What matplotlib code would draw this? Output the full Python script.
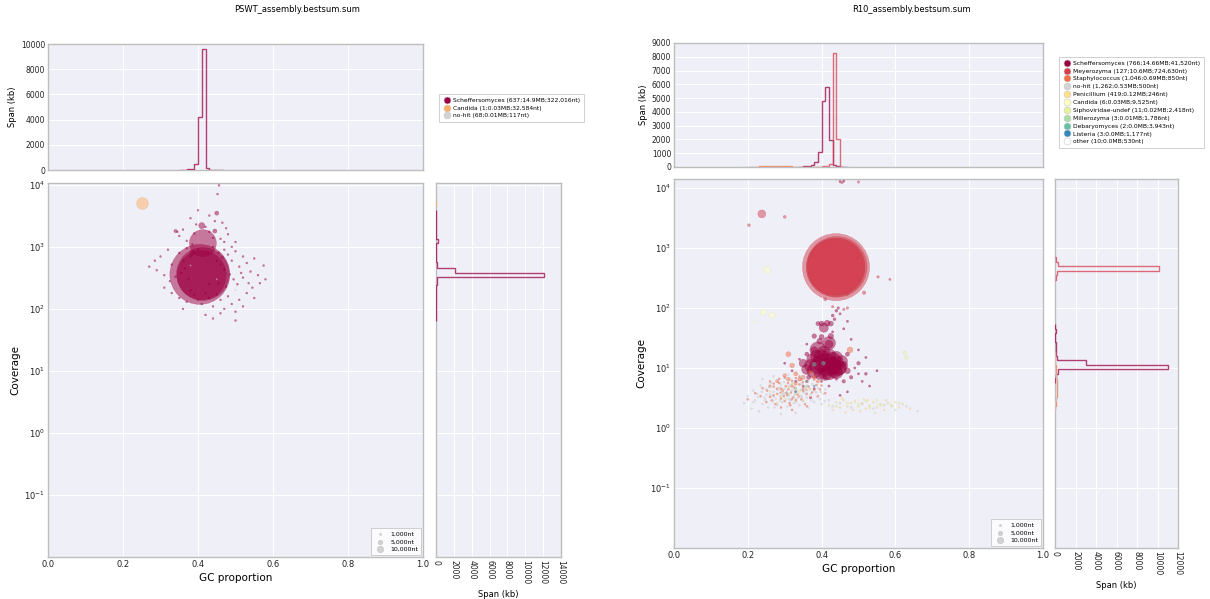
import numpy as np
import matplotlib
matplotlib.use('Agg')
import matplotlib.pyplot as plt
import matplotlib.colors as mcolors
from matplotlib.lines import Line2D

W, H = 1210, 599
NT_PER_S = 450.0   # contig length (nt) per scatter size unit

# ---------------- PSWT_assembly ----------------
pswt_labels = ['Scheffersomyces (637;14.9MB;322,016nt)',
               'Candida (1;0.03MB;32,584nt)',
               'no-hit (68;0.01MB;117nt)']
pswt_colors = ['#9e0142', '#fdae61', '#d3d3d3']

# (gc, coverage, length nt)
pswt_sch_big = [(0.405, 360, 840000), (0.413, 365, 650000), (0.410, 350, 560000),
                (0.413, 1150, 170000), (0.410, 2200, 9000), (0.450, 3500, 4000),
                (0.445, 1800, 4000), (0.340, 1800, 2500), (0.385, 800, 6000)]
pswt_sch_dust = [(0.456, 9800), (0.452, 7100), (0.400, 3900), (0.430, 3200), (0.380, 2900),
                 (0.445, 2600), (0.465, 2450), (0.395, 2300), (0.420, 2100), (0.475, 2000),
                 (0.360, 1900), (0.430, 1750), (0.480, 1600), (0.350, 1500), (0.440, 1400),
                 (0.460, 1350), (0.370, 1250), (0.500, 1200), (0.390, 1650), (0.345, 1750),
                 (0.300, 700), (0.320, 900), (0.330, 520), (0.350, 800), (0.360, 600),
                 (0.365, 450), (0.370, 950), (0.380, 700), (0.470, 900), (0.480, 750),
                 (0.490, 600), (0.500, 850), (0.510, 480), (0.520, 700), (0.530, 550),
                 (0.540, 400), (0.550, 650), (0.560, 350), (0.575, 500), (0.290, 420),
                 (0.310, 350), (0.325, 280), (0.340, 330), (0.460, 520), (0.470, 430),
                 (0.485, 360), (0.495, 300), (0.505, 250), (0.520, 320), (0.535, 260),
                 (0.545, 220), (0.440, 1000), (0.455, 800), (0.465, 680), (0.450, 600),
                 (0.330, 180), (0.350, 150), (0.370, 130), (0.380, 200), (0.390, 170),
                 (0.400, 140), (0.410, 120), (0.420, 180), (0.430, 150), (0.440, 110),
                 (0.450, 170), (0.460, 140), (0.470, 100), (0.480, 160), (0.490, 120),
                 (0.500, 90), (0.510, 140), (0.520, 110), (0.420, 80), (0.440, 70),
                 (0.460, 85), (0.500, 65), (0.360, 100), (0.530, 180), (0.550, 150),
                 (0.310, 220), (0.470, 1200), (0.490, 1000), (0.385, 1100), (0.400, 900),
                 (0.355, 380), (0.375, 300), (0.455, 260), (0.475, 230), (0.430, 250),
                 (0.515, 380), (0.565, 260), (0.285, 600), (0.270, 480), (0.580, 300)]
pswt_sch_dust_len = 900
pswt_can_big = [(0.250, 5100, 32584)]
pswt_nohit_big = [(0.450, 300, 500), (0.380, 500, 500), (0.500, 200, 500)]

# GC histogram: first bin left edge, span (kb) per 0.01 bin
pswt_sch_gc_start, pswt_sch_gc_kb = 0.35, [10, 20, 40, 80, 500, 4200, 9600, 150, 30, 15, 10, 5]
pswt_can_gc_start, pswt_can_gc_kb = 0.25, [33]
# coverage histogram: log10 bin edges, span (kb)
pswt_sch_cov_edges = [1.8, 1.9, 2.0, 2.1, 2.2, 2.3, 2.385, 2.45, 2.51, 2.58, 2.66, 2.75,
                      2.85, 2.95, 3.06, 3.12, 3.2, 3.4, 3.6]
pswt_sch_cov_kb = [10, 15, 20, 25, 35, 45, 60, 100, 12100, 2100, 60, 40, 30, 20, 170, 20, 15, 8]
pswt_can_cov_edges, pswt_can_cov_kb = [3.68, 3.745], [33]

# ---------------- R10_assembly ----------------
r10_labels = ['Scheffersomyces (766;14.66MB;41,520nt)',
              'Meyerozyma (127;10.6MB;724,630nt)',
              'Staphylococcus (1,046;0.69MB;850nt)',
              'no-hit (1,262;0.53MB;500nt)',
              'Penicillium (419;0.12MB;246nt)',
              'Candida (6;0.03MB;9,525nt)',
              'Siphoviridae-undef (11;0.02MB;2,418nt)',
              'Millerozyma (3;0.01MB;1,786nt)',
              'Debaryomyces (2;0.0MB;3,943nt)',
              'Listeria (3;0.0MB;1,177nt)',
              'other (10;0.0MB;530nt)']
r10_colors = ['#9e0142', '#d53e4f', '#f46d43', '#d3d3d3', '#fee08b', '#ffffbf',
              '#e6f598', '#abdda4', '#66c2a5', '#3288bd', '#ffffff']

r10_sch_big = [(0.390, 20, 60000), (0.420, 26, 40000), (0.400, 12, 70000), (0.410, 10, 60000),
               (0.430, 11, 65000), (0.440, 12, 50000), (0.450, 10, 40000), (0.370, 11, 35000),
               (0.380, 9, 50000), (0.420, 8.5, 55000), (0.440, 8.5, 40000), (0.400, 15, 55000),
               (0.420, 16, 45000), (0.440, 15, 35000), (0.375, 14, 30000), (0.360, 9.5, 25000),
               (0.455, 13, 30000), (0.410, 8, 40000), (0.430, 13.5, 60000), (0.390, 11, 65000),
               (0.415, 12.5, 70000), (0.405, 18, 40000), (0.385, 16, 30000), (0.435, 9, 45000),
               (0.395, 8, 30000), (0.425, 10.5, 70000), (0.445, 10, 55000), (0.350, 12, 15000),
               (0.460, 11, 15000), (0.470, 9, 8000),
               (0.406, 47, 20000), (0.400, 55, 6000), (0.415, 56, 8000), (0.425, 55, 6000),
               (0.390, 55, 4000), (0.380, 34, 5000), (0.400, 33, 6000), (0.425, 34, 7000),
               (0.420, 25, 15000), (0.395, 28, 8000), (0.430, 75, 2000), (0.440, 90, 2000),
               (0.445, 100, 1500), (0.435, 65, 2000), (0.380, 20, 10000), (0.360, 17, 4000),
               (0.365, 7, 4000), (0.480, 7, 3000), (0.500, 12, 3000), (0.470, 17, 4000),
               (0.520, 8, 2000), (0.460, 6, 3000), (0.410, 7, 4000)]
r10_sch_dust = [(0.33, 6), (0.35, 5), (0.47, 4), (0.50, 20), (0.52, 15), (0.48, 30), (0.46, 45),
                (0.36, 25), (0.34, 14), (0.55, 9), (0.53, 5), (0.45, 3.5), (0.38, 4.5), (0.40, 6),
                (0.42, 5), (0.44, 6.5), (0.49, 10), (0.51, 6), (0.37, 3.2), (0.43, 40), (0.47, 60),
                (0.45, 80), (0.50, 8), (0.32, 9), (0.30, 12), (0.46, 13000), (0.45, 12800)]
r10_sch_dust_len = 1200
r10_mey_big = [(0.439, 480, 1050000), (0.441, 485, 860000), (0.438, 475, 800000),
               (0.440, 490, 760000), (0.437, 480, 720000),
               (0.238, 3700, 15000), (0.203, 2400, 2000), (0.300, 3300, 2000), (0.410, 140, 2500),
               (0.470, 170, 1500), (0.553, 330, 1500), (0.585, 300, 1200), (0.515, 180, 3000),
               (0.496, 700, 1500), (0.470, 100, 1500), (0.460, 95, 1500), (0.500, 12600, 1500),
               (0.455, 12300, 1500), (0.430, 105, 1500)]
r10_staph_big = [(0.310, 17, 6000), (0.320, 11, 5000), (0.477, 20, 8000), (0.330, 8, 4000),
                 (0.350, 7, 4000), (0.300, 7.5, 3000), (0.370, 8.5, 3000), (0.280, 6, 2500),
                 (0.340, 6.5, 3000), (0.360, 6, 2500), (0.320, 5, 2000), (0.290, 4.5, 1500),
                 (0.380, 7, 3500), (0.390, 6, 2500), (0.310, 6.5, 3500), (0.260, 5, 1500),
                 (0.330, 5.5, 2500), (0.350, 4.5, 2000), (0.305, 3.8, 1500), (0.270, 3.5, 1200)]
r10_staph_dust = [(0.20, 3.0), (0.22, 3.8), (0.24, 4.6), (0.25, 2.7), (0.26, 3.3), (0.27, 4.9),
                  (0.275, 2.5), (0.28, 3.7), (0.285, 5.6), (0.29, 3.1), (0.295, 4.2), (0.30, 2.8),
                  (0.303, 5.0), (0.307, 3.5), (0.31, 4.4), (0.313, 2.6), (0.317, 3.9), (0.32, 6.1),
                  (0.323, 3.2), (0.327, 4.7), (0.33, 2.9), (0.335, 3.6), (0.34, 5.3), (0.345, 3.0),
                  (0.35, 4.1), (0.355, 2.5), (0.36, 3.7), (0.365, 4.9), (0.37, 3.3), (0.38, 4.3),
                  (0.39, 3.4), (0.40, 5.1), (0.41, 3.8), (0.30, 6.9), (0.34, 7.2), (0.26, 6.0),
                  (0.29, 2.2), (0.32, 2.0), (0.36, 2.3), (0.38, 6.4),
                  (0.235, 3.4), (0.252, 4.2), (0.265, 2.9), (0.279, 4.5), (0.289, 3.9), (0.298, 3.4),
                  (0.309, 5.6), (0.319, 3.0), (0.329, 4.1), (0.339, 3.3), (0.349, 5.8), (0.359, 4.3),
                  (0.374, 3.9), (0.386, 5.2), (0.396, 4.4), (0.315, 2.4), (0.285, 6.6), (0.345, 6.4),
                  (0.270, 5.5), (0.330, 6.8)]
r10_staph_dust_len = 1000
r10_nohit_dust = [(0.19, 2.6), (0.20, 3.4), (0.21, 2.1), (0.215, 4.2), (0.22, 2.9), (0.225, 3.7),
                  (0.23, 1.9), (0.235, 5.1), (0.24, 2.5), (0.245, 3.2), (0.25, 4.4), (0.255, 2.2),
                  (0.26, 3.6), (0.262, 5.6), (0.268, 2.8), (0.27, 4.0), (0.275, 3.1), (0.278, 6.2),
                  (0.28, 2.4), (0.284, 4.7), (0.288, 3.4), (0.29, 5.3), (0.293, 2.7), (0.296, 3.9),
                  (0.30, 4.5), (0.302, 3.0), (0.305, 6.6), (0.308, 2.3), (0.31, 3.6), (0.312, 4.9),
                  (0.315, 2.9), (0.318, 4.1), (0.32, 3.3), (0.322, 5.7), (0.325, 2.6), (0.328, 3.8),
                  (0.33, 4.6), (0.333, 3.1), (0.336, 6.0), (0.34, 2.4), (0.342, 3.5), (0.345, 4.3),
                  (0.348, 5.2), (0.35, 2.8), (0.353, 3.9), (0.356, 4.8), (0.36, 3.2), (0.364, 2.2),
                  (0.368, 4.4), (0.37, 3.6), (0.375, 5.4), (0.38, 2.7), (0.385, 3.9), (0.39, 4.6),
                  (0.395, 3.0), (0.40, 2.5), (0.405, 3.7), (0.41, 4.4), (0.42, 2.9), (0.43, 2.3),
                  (0.45, 2.6), (0.48, 2.2), (0.51, 2.5), (0.54, 2.1), (0.57, 2.4), (0.60, 2.0),
                  (0.63, 2.3), (0.66, 1.9), (0.29, 1.7), (0.33, 1.8), (0.27, 7.3), (0.31, 7.8),
                  (0.35, 7.0), (0.24, 6.5), (0.44, 13500),
                  (0.215, 2.7), (0.228, 3.3), (0.238, 4.0), (0.248, 2.9), (0.258, 4.8), (0.266, 3.4),
                  (0.272, 2.2), (0.281, 4.3), (0.287, 2.9), (0.294, 3.6), (0.298, 5.8), (0.306, 4.0),
                  (0.311, 3.1), (0.316, 5.2), (0.321, 4.4), (0.326, 3.5), (0.331, 2.7), (0.337, 4.0),
                  (0.343, 5.5), (0.347, 3.3), (0.352, 4.5), (0.358, 3.6), (0.362, 5.0), (0.372, 2.9),
                  (0.378, 4.1), (0.388, 3.3), (0.398, 4.0), (0.408, 2.8), (0.250, 3.6), (0.300, 3.8)]
r10_nohit_dust_len = 900
r10_pen_dust = [(0.42, 2.4), (0.43, 2.0), (0.44, 2.7), (0.45, 2.2), (0.46, 2.9), (0.47, 2.3),
                (0.48, 2.6), (0.485, 2.0), (0.49, 2.8), (0.50, 2.3), (0.51, 2.6), (0.52, 2.1),
                (0.525, 2.9), (0.53, 2.4), (0.54, 2.7), (0.55, 2.2), (0.56, 2.5), (0.57, 2.0),
                (0.58, 2.6), (0.59, 2.3), (0.60, 2.7), (0.61, 2.2), (0.62, 2.5), (0.64, 2.1),
                (0.465, 1.8), (0.505, 1.9), (0.545, 1.8), (0.455, 3.1), (0.515, 3.0), (0.575, 2.9),
                (0.26, 4.1), (0.29, 3.3), (0.31, 4.8), (0.33, 3.7), (0.35, 2.9), (0.37, 4.5),
                (0.28, 2.6), (0.32, 5.4), (0.34, 4.2), (0.30, 3.0)]
r10_pen_dust_len = 900
r10_can_big = [(0.252, 430, 11000), (0.242, 85, 9000), (0.266, 76, 9000), (0.220, 58, 2000),
               (0.340, 4, 1000), (0.550, 2.5, 1000)]
r10_sipho_big = [(0.630, 15, 3000), (0.625, 18, 2500), (0.56, 2.4, 1500), (0.50, 2.5, 1500),
                 (0.47, 2.6, 1500), (0.53, 2.2, 1500), (0.59, 2.4, 1200), (0.44, 2.3, 1200),
                 (0.61, 2.6, 1200), (0.52, 2.8, 1200), (0.55, 2.9, 1000)]
r10_miller_big = [(0.33, 4.5, 1786), (0.36, 5.0, 1500), (0.31, 3.6, 1200)]
r10_debary_big = [(0.38, 11.5, 3943), (0.405, 12.0, 3900)]
r10_listeria_big = [(0.36, 6.0, 1177), (0.33, 4.0, 1200), (0.38, 5.0, 1000)]
r10_other_big = [(0.28, 4.0, 600), (0.30, 3.0, 600), (0.32, 4.6, 600), (0.34, 3.2, 600),
                 (0.36, 4.2, 600), (0.26, 3.0, 600), (0.29, 5.2, 600), (0.33, 2.6, 600),
                 (0.37, 3.4, 600), (0.39, 4.0, 600)]

r10_sch_gc_start, r10_sch_gc_kb = 0.34, [20, 40, 80, 150, 350, 1100, 4800, 5800, 1950, 120, 40, 20, 10]
r10_mey_gc_start, r10_mey_gc_kb = 0.40, [80, 80, 250, 8300, 2000, 20]
r10_staph_gc_start, r10_staph_gc_kb = 0.20, [10, 20, 30, 45, 55, 65, 70, 75, 70, 60, 50, 40, 30,
                                              20, 15, 10, 8, 5, 3, 2]
r10_nohit_gc_start, r10_nohit_gc_kb = 0.18, [5, 10, 15, 20, 25, 30, 35, 35, 30, 25, 20, 15, 12, 10,
                                              8, 8, 10, 12, 14, 15, 14, 12, 10, 8, 6, 5, 4, 3, 2, 1]

r10_sch_cov_edges = [0.755, 0.83, 0.905, 0.98, 1.055, 1.13, 1.205, 1.28, 1.355, 1.43, 1.505,
                     1.58, 1.655, 1.73]
r10_sch_cov_kb = [40, 100, 300, 11000, 3000, 150, 120, 80, 60, 40, 40, 50, 30]
r10_mey_cov_edges = [2.47, 2.545, 2.62, 2.695, 2.77, 2.845]
r10_mey_cov_kb = [50, 150, 10100, 250, 50]
r10_staph_cov_edges = [0.3, 0.375, 0.45, 0.525, 0.6, 0.675, 0.75, 0.825, 0.9, 0.975, 1.05,
                       1.125, 1.2, 1.275]
r10_staph_cov_kb = [30, 60, 110, 160, 200, 180, 150, 110, 80, 50, 30, 40, 20]
r10_nohit_cov_kb = [20, 40, 70, 90, 100, 90, 70, 50, 30, 15, 8, 5, 3]

size_legend_nt = [1000, 5000, 10000]
size_legend_labels = ['1,000nt', '5,000nt', '10,000nt']

BG = '#efeff8'
SPINE = '#bdbdbd'


def to_arrays(big, dust=(), dust_len=1000):
    gc = [p[0] for p in big] + [p[0] for p in dust]
    cov = [p[1] for p in big] + [p[1] for p in dust]
    ln = [p[2] for p in big] + [dust_len] * len(dust)
    return np.array(gc), np.array(cov), np.array(ln, dtype=float)


def px_axes(fig, x0, y0, x1, y1):
    return fig.add_axes([x0 / W, 1 - y1 / H, (x1 - x0) / W, (y1 - y0) / H])


def style(ax):
    ax.set_facecolor(BG)
    ax.grid(True, color='white', lw=0.8)
    ax.set_axisbelow(True)
    for s in ax.spines.values():
        s.set_color(SPINE)
        s.set_linewidth(1.0)
    ax.tick_params(length=0, labelsize=5.5, pad=2, colors='#222222')


def darker(c, f=0.8):
    r, g, b = mcolors.to_rgb(c)
    return (r * f, g * f, b * f)


def draw_panel(fig, main_box, top_box, right_box, title, title_x, labels, colors, series,
               gc_hists, cov_hists, ytop, top_ymax, top_step, right_xmax, leg_xy):
    ax = px_axes(fig, *main_box)
    axt = px_axes(fig, *top_box)
    axr = px_axes(fig, *right_box)
    for a in (ax, axt, axr):
        style(a)

    for color, (gc, cov, ln) in zip(colors, series):
        if len(gc) == 0:
            continue
        ax.scatter(gc, cov, s=ln / NT_PER_S, c=color, alpha=0.5,
                   edgecolors=[darker(color, 0.85)], linewidths=0.25, zorder=3)

    ax.set_yscale('log')
    ax.set_xlim(0, 1)
    ax.set_ylim(0.01, ytop)
    ax.set_yticks([0.1, 1, 10, 100, 1000, 10000])
    ax.minorticks_off()
    ax.set_xticks([0, 0.2, 0.4, 0.6, 0.8, 1.0])
    ax.tick_params(labelsize=6)
    ax.set_xlabel('GC proportion', fontsize=7.5, labelpad=3)
    ax.set_ylabel('Coverage', fontsize=7.5, labelpad=3)

    # size legend
    handles = [ax.scatter([], [], s=n / NT_PER_S, c='#c8c8c8', alpha=0.8,
                          edgecolors='#b0b0b0', linewidths=0.3) for n in size_legend_nt]
    lg = ax.legend(handles, size_legend_labels, loc='lower right', fontsize=4.5,
                   frameon=True, borderpad=0.5, labelspacing=0.35, handletextpad=0.6,
                   borderaxespad=0.3, fancybox=False)
    lg.get_frame().set_edgecolor('#bbbbbb')
    lg.get_frame().set_linewidth(0.6)

    # GC span histogram
    for color, start, kb in gc_hists:
        edges = start + 0.01 * np.arange(len(kb) + 1)
        axt.stairs(kb, edges, color=color, alpha=0.75, lw=1.0, baseline=0, zorder=3)
    axt.set_xlim(0, 1)
    axt.set_ylim(0, top_ymax)
    axt.set_xticks([0, 0.2, 0.4, 0.6, 0.8, 1.0])
    axt.set_yticks(np.arange(0, top_ymax + 1, top_step))
    axt.tick_params(labelbottom=False)
    axt.set_ylabel('Span (kb)', fontsize=6, labelpad=3)

    # coverage span histogram
    for color, log_edges, kb in cov_hists:
        axr.stairs(kb, 10 ** np.array(log_edges), orientation='horizontal',
                   color=color, alpha=0.75, lw=1.0, baseline=0, zorder=3)
    axr.set_yscale('log')
    axr.set_ylim(0.01, ytop)
    axr.set_yticks([0.1, 1, 10, 100, 1000, 10000])
    axr.minorticks_off()
    axr.tick_params(labelleft=False)
    axr.set_xlim(0, right_xmax)
    axr.set_xticks(np.arange(0, right_xmax + 1, 2000))
    for t in axr.get_xticklabels():
        t.set_rotation(-90)
    axr.set_xlabel('Span (kb)', fontsize=6, labelpad=4)

    # taxon legend
    marks = [Line2D([], [], ls='', marker='o', markersize=5, markerfacecolor=c,
                    markeredgecolor='#c8c8c8', markeredgewidth=0.4) for c in colors]
    fl = fig.legend(marks, labels, loc='upper left',
                    bbox_to_anchor=(leg_xy[0] / W, 1 - leg_xy[1] / H),
                    fontsize=4.3, frameon=True, fancybox=False, borderpad=0.6,
                    labelspacing=0.45, handletextpad=0.4, handlelength=1.4)
    fl.get_frame().set_edgecolor('#bbbbbb')
    fl.get_frame().set_linewidth(0.6)

    fig.text(title_x / W, 1 - 10 / H, title, ha='center', va='center', fontsize=6)


fig = plt.figure(figsize=(W / 100, H / 100), dpi=100)

pswt_series = [to_arrays(pswt_sch_big, pswt_sch_dust, pswt_sch_dust_len),
               to_arrays(pswt_can_big),
               to_arrays(pswt_nohit_big)]
draw_panel(fig, (48, 183, 423, 557), (48, 44, 423, 170), (436, 183, 561, 557),
           'PSWT_assembly.bestsum.sum', 297, pswt_labels, pswt_colors, pswt_series,
           [(pswt_colors[0], pswt_sch_gc_start, pswt_sch_gc_kb),
            (pswt_colors[1], pswt_can_gc_start, pswt_can_gc_kb)],
           [(pswt_colors[0], pswt_sch_cov_edges, pswt_sch_cov_kb),
            (pswt_colors[1], pswt_can_cov_edges, pswt_can_cov_kb)],
           10 ** 4.03, 10000, 2000, 14000, (436, 91))

r10_series = [to_arrays(r10_sch_big, r10_sch_dust, r10_sch_dust_len),
              to_arrays(r10_mey_big),
              to_arrays(r10_staph_big, r10_staph_dust, r10_staph_dust_len),
              to_arrays([], r10_nohit_dust, r10_nohit_dust_len),
              to_arrays([], r10_pen_dust, r10_pen_dust_len),
              to_arrays(r10_can_big),
              to_arrays(r10_sipho_big),
              to_arrays(r10_miller_big),
              to_arrays(r10_debary_big),
              to_arrays(r10_listeria_big),
              to_arrays(r10_other_big)]
draw_panel(fig, (674, 179, 1043, 548), (674, 43, 1043, 167), (1055, 179, 1178, 548),
           'R10_assembly.bestsum.sum', 911, r10_labels, r10_colors, r10_series,
           [(r10_colors[0], r10_sch_gc_start, r10_sch_gc_kb),
            (r10_colors[1], r10_mey_gc_start, r10_mey_gc_kb),
            (r10_colors[2], r10_staph_gc_start, r10_staph_gc_kb),
            (r10_colors[3], r10_nohit_gc_start, r10_nohit_gc_kb)],
           [(r10_colors[0], r10_sch_cov_edges, r10_sch_cov_kb),
            (r10_colors[1], r10_mey_cov_edges, r10_mey_cov_kb),
            (r10_colors[2], r10_staph_cov_edges, r10_staph_cov_kb),
            (r10_colors[3], r10_staph_cov_edges, r10_nohit_cov_kb)],
           10 ** 4.15, 9000, 1000, 12000, (1056, 54))

fig.savefig('out.png', dpi=100)
